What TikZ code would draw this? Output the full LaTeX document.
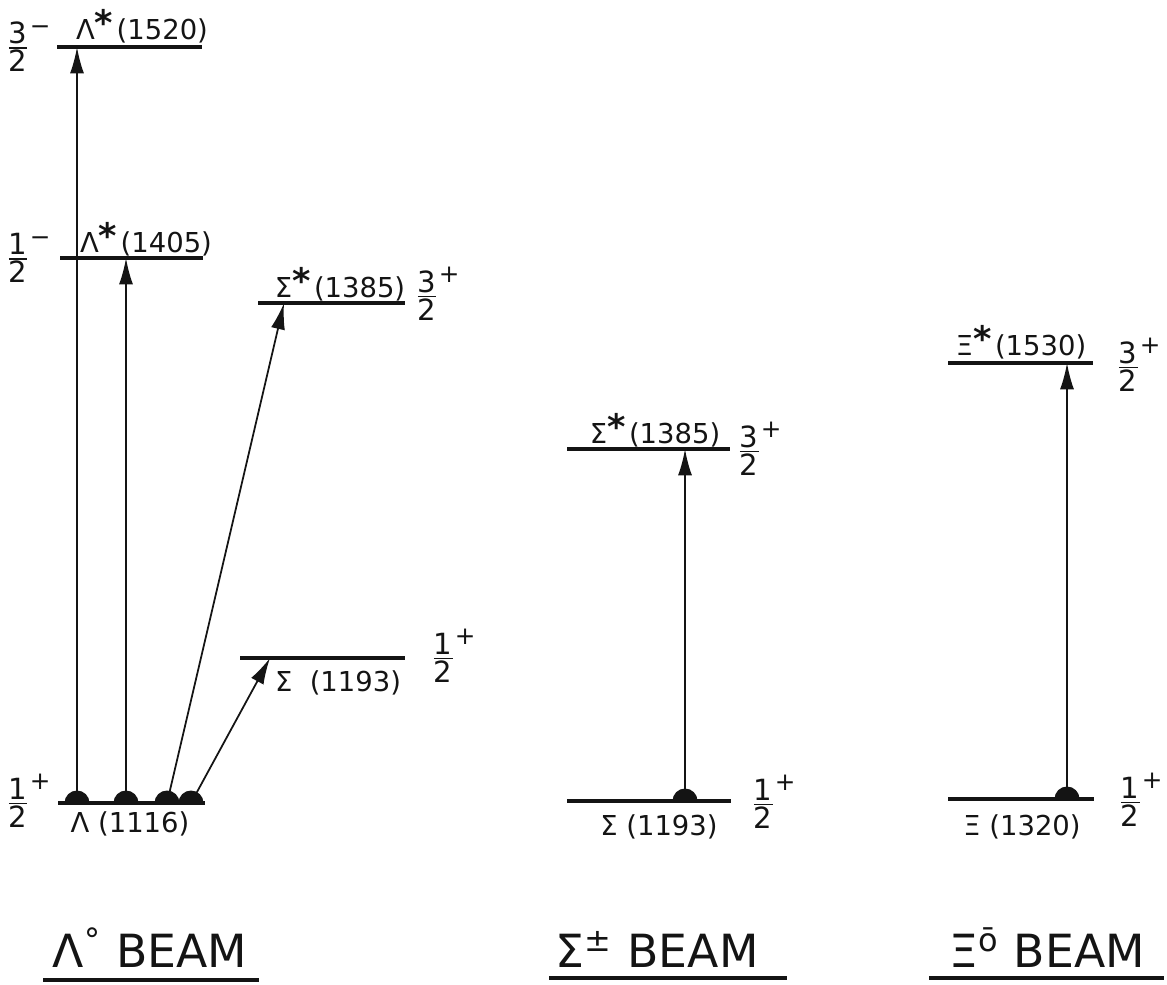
\documentclass[tikz,border=0pt]{standalone}
\usepackage{fontspec}
\setmainfont{DejaVu Sans}
\usetikzlibrary{arrows.meta}
\definecolor{LevInk}{RGB}{20,20,20}
\newcommand\spin[3]{$\frac{\mbox{#1}}{\mbox{#2}}$\kern-0.5pt\raisebox{1.3ex}{\fontsize{7}{7}\selectfont #3}}
\newcommand\str{\raisebox{.25ex}{\fontsize{10}{10}\selectfont\bfseries *}\kern1pt}
\tikzset{
  lev line/.style={draw=LevInk, line width=0.9pt},
  lev trans/.style={-{Latex[length=7.5pt,width=4pt]}, draw=LevInk, line width=0.5pt},
  lev state/.style={font=\fontsize{7.8}{9}\selectfont, text=LevInk, inner sep=0pt, anchor=base},
  lev spin/.style={font=\fontsize{8.3}{9}\selectfont, text=LevInk, inner sep=0pt, anchor=west},
  lev beam/.style={font=\fontsize{13}{15}\selectfont, text=LevInk, inner sep=0pt, anchor=base},
  lev uline/.style={draw=LevInk, line width=1.1pt},
  bump/.pic={\fill[LevInk] (-0.125cm,0) arc[start angle=180,end angle=0,radius=0.125cm] -- cycle;}
}
\begin{document}
\begin{tikzpicture}[x=0.01cm,y=-0.01cm]
\useasboundingbox (0,0) rectangle (1167,984);
% Lambda beam
\coordinate (lamL) at (58,803);   \coordinate (lamR) at (205,803);
\coordinate (la20L) at (57,47);   \coordinate (la20R) at (202,47);
\coordinate (la05L) at (60,258);  \coordinate (la05R) at (203,258);
\coordinate (sgsL) at (258,303);  \coordinate (sgsR) at (405,303);
\coordinate (sgL) at (240,658);   \coordinate (sgR) at (405,658);
\draw[lev line] (lamL) -- (lamR);
\draw[lev line] (la20L) -- (la20R);
\draw[lev line] (la05L) -- (la05R);
\draw[lev line] (sgsL) -- (sgsR);
\draw[lev line] (sgL) -- (sgR);
\coordinate (g1) at (77,803);  \coordinate (t1) at (77,47);
\coordinate (g2) at (126,803); \coordinate (t2) at (126,258);
\coordinate (g3) at (167,803); \coordinate (t3) at (284,303);
\coordinate (g4) at (191,803); \coordinate (t4) at (270,658);
\foreach \g/\t in {g1/t1,g2/t2,g3/t3,g4/t4}{
  \draw[lev trans] (\g) -- (\t);
  \pic at (\g) {bump};
}
\node[lev state] (n1520) at (142,39) {Λ\str(1520)};
\node[lev state] (n1405) at (146,252) {Λ\str(1405)};
\node[lev state] (n1385a) at (340,297) {Σ\str(1385)};
\node[lev state] (n1193a) at (338,691) {Σ\ \ (1193)};
\node[lev state] (n1116) at (130,832) {Λ (1116)};
\node[lev spin] (s1520) at (4,47) {\spin{3}{2}{−}};
\node[lev spin] (s1405) at (4,258) {\spin{1}{2}{−}};
\node[lev spin] (s1385a) at (413,294) {\spin{3}{2}{+}};
\node[lev spin] (s1193a) at (429,656) {\spin{1}{2}{+}};
\node[lev spin] (s1116) at (4,801) {\spin{1}{2}{+}};
% Sigma beam
\coordinate (sbL) at (567,801);  \coordinate (sbR) at (731,801);
\coordinate (ssL) at (567,449);  \coordinate (ssR) at (730,449);
\draw[lev line] (sbL) -- (sbR);
\draw[lev line] (ssL) -- (ssR);
\coordinate (g5) at (685,801); \coordinate (t5) at (685,449);
\draw[lev trans] (g5) -- (t5);
\pic at (g5) {bump};
\node[lev state] (n1385b) at (655,443) {Σ\str(1385)};
\node[lev state] (n1193b) at (659,835) {Σ (1193)};
\node[lev spin] (s1385b) at (735,449) {\spin{3}{2}{+}};
\node[lev spin] (s1193b) at (749,802) {\spin{1}{2}{+}};
% Xi beam
\coordinate (xbL) at (948,799);  \coordinate (xbR) at (1094,799);
\coordinate (xsL) at (948,363);  \coordinate (xsR) at (1093,363);
\draw[lev line] (xbL) -- (xbR);
\draw[lev line] (xsL) -- (xsR);
\coordinate (g6) at (1067,799); \coordinate (t6) at (1067,363);
\draw[lev trans] (g6) -- (t6);
\pic at (g6) {bump};
\node[lev state] (n1530) at (1021,355) {Ξ\str(1530)};
\node[lev state] (n1320) at (1022,835) {Ξ (1320)};
\node[lev spin] (s1530) at (1114,365) {\spin{3}{2}{+}};
\node[lev spin] (s1320) at (1116,800) {\spin{1}{2}{+}};
% beams
\node[lev beam] (bm1) at (150,967) {Λ\textsuperscript{°} BEAM};
\node[lev beam] (bm2) at (657,967) {Σ\textsuperscript{±} BEAM};
\node[lev beam] (bm3) at (1047,967) {Ξ\textsuperscript{ō} BEAM};
\coordinate (u1L) at (43,980);  \coordinate (u1R) at (259,980);
\coordinate (u2L) at (549,978); \coordinate (u2R) at (787,978);
\coordinate (u3L) at (929,978); \coordinate (u3R) at (1164,978);
\draw[lev uline] (u1L) -- (u1R);
\draw[lev uline] (u2L) -- (u2R);
\draw[lev uline] (u3L) -- (u3R);
\end{tikzpicture}
\end{document}
